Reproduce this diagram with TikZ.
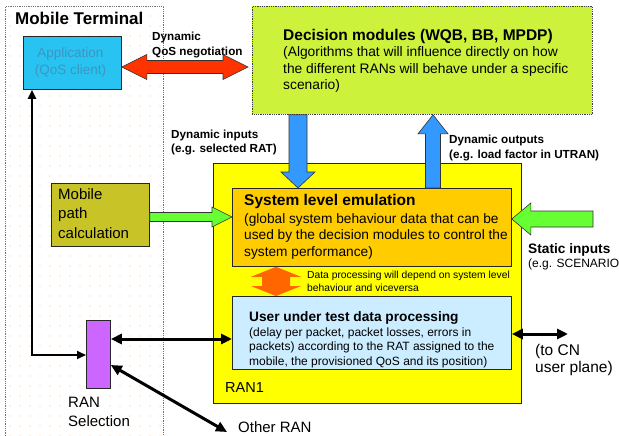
\documentclass[tikz,border=0pt]{standalone}
\usepackage{fontspec}
\setmainfont{Liberation Sans}
\usetikzlibrary{calc,arrows.meta,patterns.meta}

\definecolor{appblue}{RGB}{40,195,240}
\definecolor{apptext}{RGB}{60,150,195}
\definecolor{qosred}{RGB}{255,51,0}
\definecolor{decgreen}{RGB}{204,242,60}
\definecolor{fatblue}{RGB}{51,153,255}
\definecolor{pathol}{RGB}{200,196,40}
\definecolor{fatgreen}{RGB}{102,255,51}
\definecolor{ranyellow}{RGB}{255,255,0}
\definecolor{sysorange}{RGB}{255,204,0}
\definecolor{datorange}{RGB}{255,102,0}
\definecolor{userblue}{RGB}{204,236,255}
\definecolor{selpurple}{RGB}{204,102,255}

% block arrow: style, tail, tip, shaft half-width, head half-width, head length
\newcommand{\fatarrow}[6]{%
  \path ($(#3)!#6!(#2)$) coordinate (fa-base);
  \draw[#1] ($(#2)!#4!90:(#3)$) -- ($(fa-base)!#4!90:(#3)$) -- ($(fa-base)!#5!90:(#3)$)
    -- (#3) -- ($(fa-base)!#5!-90:(#3)$) -- ($(fa-base)!#4!-90:(#3)$)
    -- ($(#2)!#4!-90:(#3)$) -- cycle;}
% double-headed block arrow, same arguments
\newcommand{\fatdarrow}[6]{%
  \path ($(#3)!#6!(#2)$) coordinate (fa-b1) ($(#2)!#6!(#3)$) coordinate (fa-b2);
  \draw[#1] (#2) -- ($(fa-b2)!#5!90:(#3)$) -- ($(fa-b2)!#4!90:(#3)$)
    -- ($(fa-b1)!#4!90:(#3)$) -- ($(fa-b1)!#5!90:(#3)$) -- (#3)
    -- ($(fa-b1)!#5!-90:(#3)$) -- ($(fa-b1)!#4!-90:(#3)$)
    -- ($(fa-b2)!#4!-90:(#3)$) -- ($(fa-b2)!#5!-90:(#3)$) -- cycle;}

% text nodes are placed by the baseline of their last line
\tikzset{
  box/.style={draw=black!85, line width=0.8pt, inner sep=0pt, anchor=north west},
  lbl/.style={anchor=base west, align=left, inner sep=0pt},
  fatout/.style={draw=black!80, line width=0.6pt, line join=miter},
  conn/.style={draw=black, line width=2.2pt},
}

\begin{document}
\begin{tikzpicture}[x=1pt,y=-1pt]
\useasboundingbox (0,0) rectangle (619,436);
\fill[white] (0,0) rectangle (619,436);

% mobile terminal area
\node[box, draw=black!55, densely dotted, line width=0.8pt,
      pattern={Dots[distance=10pt,radius=0.7pt]}, pattern color=orange!45,
      minimum width=158pt, minimum height=445pt] (mt) at (5,6) {};
\node[lbl, font=\bfseries\fontsize{17}{20}\selectfont] (mtlbl) at (15,25) {Mobile Terminal};

% application / QoS client
\node[box, fill=appblue, minimum width=98pt, minimum height=53pt] (app) at (23,36) {};
\node[font=\fontsize{13.5}{17}\selectfont, text=apptext, align=center, inner sep=0pt]
  (apptxt) at ([xshift=-2pt]app.center) {Application\\(QoS client)};

% decision modules
\node[box, fill=decgreen, draw=black!75, densely dotted, minimum width=340pt, minimum height=108pt] (dec) at (252,6) {};
\node[lbl, font=\fontsize{13.8}{16.5}\selectfont] (dectxt) at (283,90)
  {{\bfseries\fontsize{15.5}{17}\selectfont Decision modules (WQB, BB, MPDP)}\\
   (Algorithms that will influence directly on how\\
   the different RANs will behave under a specific\\
   scenario)};

% mobile path calculation
\node[box, fill=pathol, minimum width=98pt, minimum height=63pt] (path) at (51,183) {};
\node[lbl, font=\fontsize{15}{19.5}\selectfont] (pathtxt) at (58,238) {Mobile\\path\\calculation};

% RAN1
\node[box, fill=ranyellow, line width=1pt, minimum width=308pt, minimum height=240pt] (ran) at (213,163) {};
\node[lbl, font=\fontsize{14.5}{17}\selectfont] (ranlbl) at (225,392) {RAN1};

% system level emulation
\node[box, fill=sysorange, minimum width=279pt, minimum height=78pt] (sys) at (232,188) {};
\node[lbl, font=\fontsize{13.7}{16.5}\selectfont] (systxt) at (244,256)
  {{\bfseries\fontsize{15.5}{17}\selectfont System level emulation}\\[1.5pt]
   (global system behaviour data that can be\\
   used by the decision modules to control the\\
   system performance)};

% user under test data processing
\node[box, fill=userblue, minimum width=279pt, minimum height=73pt] (user) at (232,296) {};
\node[lbl, font=\fontsize{12}{14.5}\selectfont] (usertxt) at (249,365)
  {{\bfseries\fontsize{13.7}{16}\selectfont User under test data processing}\\
   (delay per packet, packet losses, errors in\\
   packets) according to the RAT assigned to the\\
   mobile, the provisioned QoS and its position)};

% RAN selection
\node[box, fill=selpurple, minimum width=24pt, minimum height=68pt] (sel) at (86,320) {};
\node[lbl, font=\fontsize{15}{19}\selectfont] (sellbl) at (68,426) {RAN\\Selection};

% free labels
\node[lbl, font=\bfseries\fontsize{11.7}{15}\selectfont] (qoslbl) at (152,55.5) {Dynamic\\QoS negotiation};
\node[lbl, font=\bfseries\fontsize{11.7}{14.5}\selectfont] (inlbl) at (171,153) {Dynamic inputs\\(e.g. selected RAT)};
\node[lbl, font=\bfseries\fontsize{11.7}{14.5}\selectfont] (outlbl) at (449,158) {Dynamic outputs\\(e.g. load factor in UTRAN)};
\node[lbl, font=\bfseries\fontsize{13.7}{16}\selectfont] (statlbl) at (528,253) {Static inputs};
\node[lbl, font=\fontsize{12}{14}\selectfont] (scenlbl) at (528,267) {(e.g. SCENARIO)};
\node[lbl, font=\fontsize{10.3}{12.3}\selectfont] (deplbl) at (307,291)
  {Data processing will depend on system level\\behaviour and viceversa};
\node[lbl, font=\fontsize{15.5}{17}\selectfont] (cnlbl) at (535,372) {(to CN\\user plane)};
\node[lbl, font=\fontsize{15}{18}\selectfont] (otherlbl) at (238,432) {Other RAN};

% anchor points for the arrows
\coordinate (yq) at (0,67);
\coordinate (xin) at (298,0);
\coordinate (xout) at (433,0);
\coordinate (yp) at (0,217);
\coordinate (ys) at (0,219);
\coordinate (xd) at (276,0);
\coordinate (stat) at (593,219);
\coordinate (yru) at (0,339);
\coordinate (ybend) at (0,355);
\coordinate (xbend) at (32,0);
\coordinate (cn) at (568,334);
\coordinate (other) at (227,432);
\coordinate (yo) at (0,365);

% block arrows
\fatdarrow{fatout, fill=qosred}{app.east |- yq}{[xshift=-4pt]dec.west |- yq}{6.5pt}{12.5pt}{25pt}
\fatarrow{fatout, fill=fatblue}{dec.south -| xin}{sys.north -| xin}{9pt}{17pt}{16pt}
\fatarrow{fatout, fill=fatblue}{sys.north -| xout}{dec.south -| xout}{7.5pt}{15pt}{19pt}
\fatarrow{fatout, fill=fatgreen}{path.east |- yp}{sys.west |- yp}{4.5pt}{10pt}{20pt}
\fatarrow{fatout, fill=fatgreen}{stat}{sys.east |- ys}{8pt}{16pt}{19pt}
\fatdarrow{draw=none, fill=datorange}{sys.south -| xd}{user.north -| xd}{14pt}{25pt}{10pt}

% connectors
\draw[conn, line width=2pt, {Triangle[length=9pt,width=8pt]}-{Triangle[length=9pt,width=8pt]}]
  (app.south -| xbend) -- (xbend |- ybend) -- (sel.west |- ybend);
\draw[conn, line width=3pt, {Triangle[length=11pt,width=10pt]}-{Triangle[length=11pt,width=10pt]}]
  (sel.east |- yru) -- (user.west |- yru);
\draw[conn, line width=3pt, {Triangle[length=11pt,width=10pt]}-{Triangle[length=11pt,width=10pt]}]
  (user.east |- cn) -- (cn);
\draw[conn, line width=3pt, {Triangle[length=11pt,width=10pt]}-{Triangle[length=11pt,width=10pt]}]
  (sel.east |- yo) -- (other);
\end{tikzpicture}
\end{document}
